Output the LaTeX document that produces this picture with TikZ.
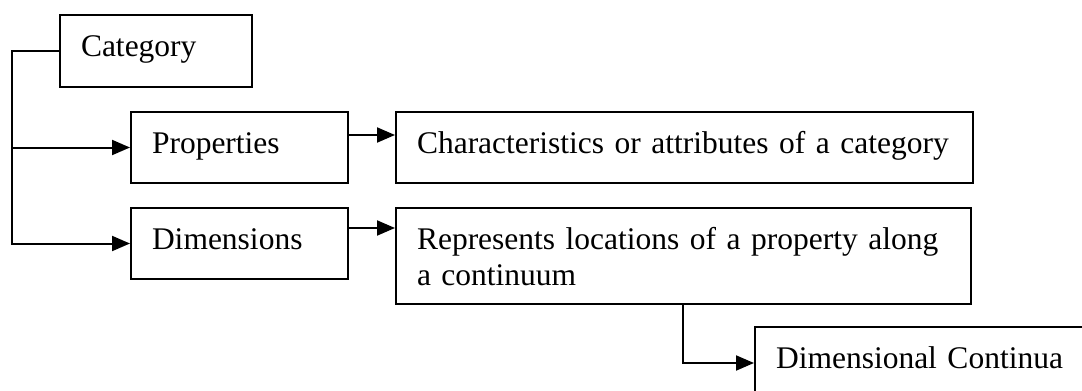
\documentclass[tikz,border=0pt]{standalone}
\usepackage{fontspec}
\setmainfont{Liberation Serif}
\usetikzlibrary{arrows.meta}
\begin{document}
\begin{tikzpicture}[x=1pt,y=-1pt,
    box/.style={draw,line width=2pt,anchor=north west,inner xsep=21pt,inner ysep=0pt,
      align=left,text height=41pt,font=\fontsize{31.5}{36}\selectfont},
    arr/.style={line width=2pt,-{Triangle[length=18pt,width=15pt]}}]
    
    \clip (0,0) rectangle (1082,391);
    
    \node[box,text width=150pt,text depth=31pt] (cat) at (59,14) {Category};
    \node[box,text width=175pt,text depth=30pt] (prop) at (130,111) {Properties};
    \node[box,text width=175pt,text depth=30pt] (dim) at (130,207) {Dimensions};
    \node[box,text width=535pt,text depth=30pt] (char) at (395,111) {Characteristics or attributes of a category};
    \node[box,text width=533pt,text depth=55pt] (rep) at (395,207) {Represents locations of a property along\\a continuum};
    \node[box,text width=320pt,text depth=31pt] (dc) at (754,326) {Dimensional Continua};
    
    \coordinate (trunk) at (12,146);
    \coordinate (r1) at (0,135);
    \coordinate (r2) at (0,228);
    \coordinate (k) at (683,0);
    
    \draw[arr] (cat.west) -| (trunk) |- (prop.west);
    \draw[arr] (trunk) |- (dim.west);
    \draw[arr] (prop.east |- r1) -- (char.west |- r1);
    \draw[arr] (dim.east |- r2) -- (rep.west |- r2);
    \draw[arr] (rep.south -| k) |- (dc.west);
    
\end{tikzpicture}
\end{document}
